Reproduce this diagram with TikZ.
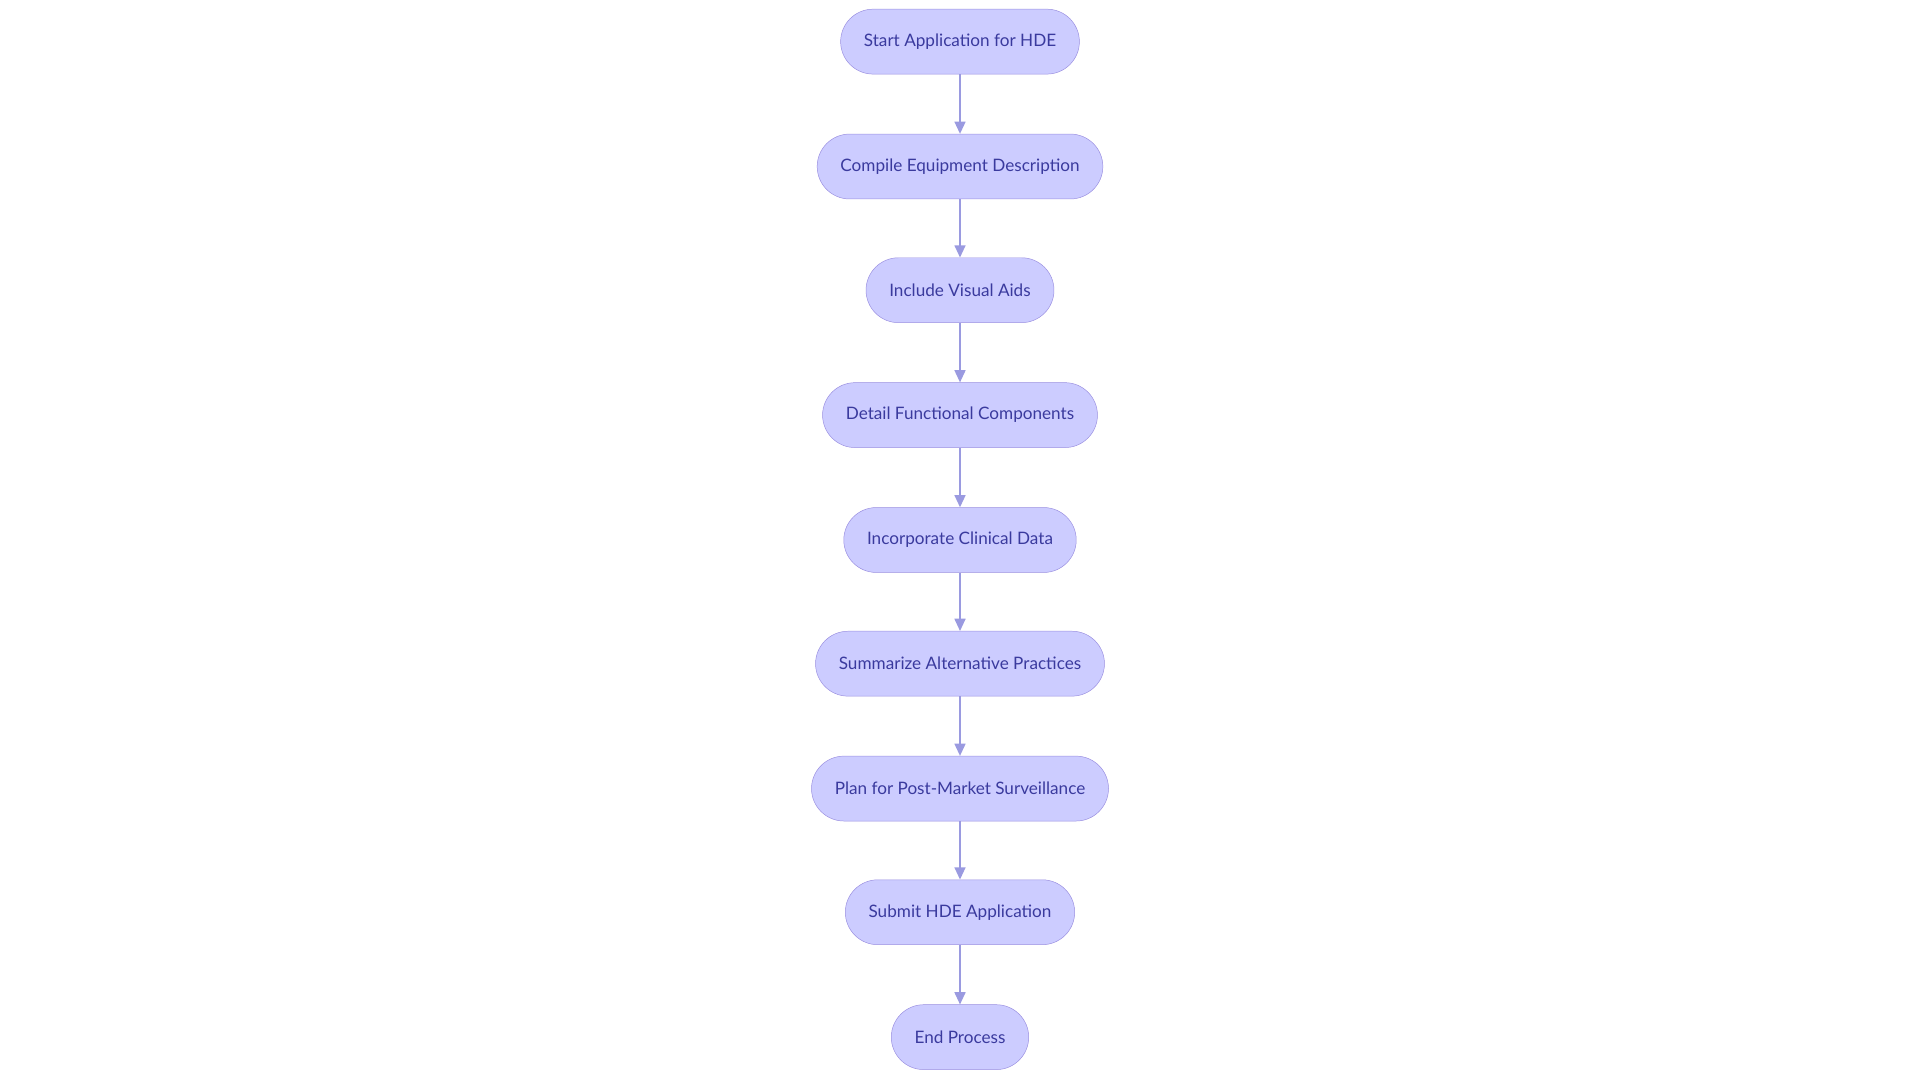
\documentclass[tikz,border=0pt]{standalone}
\usepackage{fontspec}
\setmainfont{Lato}
\usetikzlibrary{positioning,arrows.meta}
\definecolor{boxfill}{HTML}{CCCCFF}
\definecolor{boxline}{HTML}{9A8FE0}
\definecolor{boxtext}{HTML}{3A3A9E}
\definecolor{linkcol}{HTML}{9A9AE0}
\begin{document}
\begin{tikzpicture}[x=1pt,y=-1pt]
    %styles
    \tikzset{stepbox/.style={rectangle,rounded corners=26.5pt,draw=boxline,fill=boxfill,
        minimum height=53pt,inner xsep=19pt,text=boxtext,font=\fontsize{14}{16}\selectfont},
      link/.style={-{Triangle[length=10pt,width=9pt]},linkcol,line width=1.3pt}}
    \useasboundingbox (0,0) rectangle (1568,882);
    %nodes
    \node[stepbox] (s1) at (784,34) {Start Application for HDE};
    \node[stepbox] (s2) at (784,136) {Compile Equipment Description};
    \node[stepbox] (s3) at (784,237) {Include Visual Aids};
    \node[stepbox] (s4) at (784,339) {Detail Functional Components};
    \node[stepbox] (s5) at (784,441) {Incorporate Clinical Data};
    \node[stepbox] (s6) at (784,542) {Summarize Alternative Practices};
    \node[stepbox] (s7) at (784,644) {Plan for Post-Market Surveillance};
    \node[stepbox] (s8) at (784,745) {Submit HDE Application};
    \node[stepbox] (s9) at (784,847) {End Process};
    %arrows
    \foreach \a/\b in {s1/s2,s2/s3,s3/s4,s4/s5,s5/s6,s6/s7,s7/s8,s8/s9}
      \draw[link] (\a)--(\b);
\end{tikzpicture}
\end{document}
